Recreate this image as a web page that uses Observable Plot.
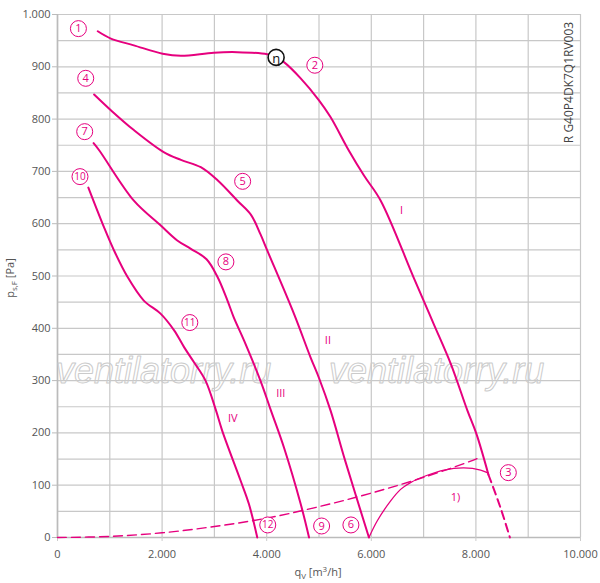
<!DOCTYPE html>
<html>
<head>
<meta charset="utf-8">
<script src="https://cdn.jsdelivr.net/npm/d3@7"></script>
<script src="https://cdn.jsdelivr.net/npm/@observablehq/plot@0.6"></script>
<style>
  html, body { margin: 0; padding: 0; background: #fff; }
  #chart { width: 600px; height: 583px; }
</style>
</head>
<body>
<div id="chart"></div>
<script>
// ---- data ----
const curveI_x = [770, 1020, 1460, 2010, 2360, 2990, 3440, 4010, 4180, 4330, 4650, 5000, 5220, 5570, 5860, 6180, 6810, 7190, 7520, 7840, 8010, 8240];
const curveI_y = [968, 954, 941, 925, 921, 927, 928, 924, 918, 909, 878, 836, 804, 740, 692, 644, 497, 409, 332, 242, 198, 120];
const curveIext_x = [8240, 8470, 8650];
const curveIext_y = [120, 57, 0];

const curveII_x = [700, 1020, 1460, 2030, 2360, 2740, 3060, 3440, 3700, 3880, 4010, 4520, 4840, 5000, 5220, 5500, 5955];
const curveII_y = [847, 817, 779, 737, 722, 708, 683, 644, 617, 580, 549, 428, 344, 305, 243, 147, 0];

const curveIII_x = [690, 800, 1460, 1970, 2290, 2550, 2850, 3060, 3250, 3370, 3570, 3880, 4080, 4330, 4650, 4810];
const curveIII_y = [754, 740, 644, 597, 568, 552, 532, 498, 453, 421, 376, 300, 243, 172, 64, 0];

const curveIV_x = [590, 890, 1080, 1340, 1650, 1970, 2230, 2420, 2610, 2830, 3030, 3150, 3500, 3660, 3820];
const curveIV_y = [669, 593, 549, 498, 453, 428, 396, 364, 335, 300, 243, 204, 109, 64, 0];

const system_x = [0, 1000, 2000, 3000, 4000, 5000, 6000, 7000, 8000, 8100];
const system_y = [0, 2, 9, 21, 37, 59, 85, 115, 150, 155];

const limit_x = [5955, 6115, 6370, 6560, 6750, 7070, 7390, 7770, 8090, 8240];
const limit_y = [0, 32, 70, 92, 105, 119, 129, 133, 129, 123];

const circleLabels = ["1", "2", "3", "4", "5", "6", "7", "8", "9", "10", "11", "12"];
const circleLabel_x = [400, 4920, 8620, 540, 3540, 5610, 520, 3220, 5050, 430, 2530, 4020];
const circleLabel_y = [973, 903, 124, 878, 681, 24, 776, 527, 22, 690, 411, 24];

const romanLabels = ["I", "II", "III", "IV", "1)"];
const roman_x = [6580, 5170, 4270, 3350, 7610];
const roman_y = [625, 376, 275, 227, 76];

const eta_x = [4180];
const eta_y = [918];

const xTicks = [0, 2000, 4000, 6000, 8000, 10000];
const yTicks = [0, 100, 200, 300, 400, 500, 600, 700, 800, 900, 1000];
const xGrid = [0, 1000, 2000, 3000, 4000, 5000, 6000, 7000, 8000, 9000, 10000];
const yGrid = [0, 50, 100, 150, 200, 250, 300, 350, 400, 450, 500, 550, 600, 650, 700, 750, 800, 850, 900, 950, 1000];

const watermarkText = "ventilatorry.ru";
const watermark_x = [2030, 7250];
const watermark_y = [318, 318];

const modelCode = "R G40P4DK7Q1RV003";

// ---- build ----
const zip = (xs, ys) => xs.map((x, i) => ({x, y: ys[i]}));
const MAG = "#e6007e";
const de = d3.formatLocale({decimal: ",", thousands: ".", grouping: [3], currency: ["", "€"]});
const fmt = de.format(",d");

const circles = circleLabels.map((t, i) => ({t, x: circleLabel_x[i], y: circleLabel_y[i]}));
const romans = romanLabels.map((t, i) => ({t, x: roman_x[i], y: roman_y[i]}));
const wm = watermark_x.map((x, i) => ({x, y: watermark_y[i], t: watermarkText}));

const chart = Plot.plot({
  width: 600,
  height: 583,
  marginLeft: 57,
  marginRight: 20,
  marginTop: 14,
  marginBottom: 46,
  x: {domain: [0, 10000]},
  y: {domain: [0, 1000]},
  style: {fontFamily: "Open Sans, sans-serif", fontSize: "11px", color: "#555", background: "#fff"},
  marks: [
    Plot.ruleX(xGrid, {x: d => d, stroke: "#c8c8c8", strokeWidth: 1.2}),
    Plot.ruleY(yGrid, {y: d => d, stroke: "#c8c8c8", strokeWidth: 1.2}),
    Plot.ruleX([0], {stroke: "#bbb", strokeWidth: 1.6}),
    Plot.ruleY([0], {stroke: "#bbb", strokeWidth: 1.6}),
    Plot.text(wm, {x: "x", y: "y", text: "t", fontSize: 36, fontStyle: "italic", fontFamily: "Liberation Sans, Arial, sans-serif", fill: "none", stroke: "#cbcbcb", strokeWidth: 1}),
    Plot.axisX({ticks: xTicks, tickFormat: fmt, tickSize: 4, tickPadding: 9, stroke: "#ccc", label: null, fill: "#555"}),
    Plot.axisY({ticks: yTicks, tickFormat: fmt, tickSize: 5, tickPadding: 2, stroke: "#bbb", label: null, fill: "#555"}),
    Plot.line(zip(system_x, system_y), {x: "x", y: "y", stroke: MAG, strokeWidth: 1.4, strokeDasharray: "9,5", curve: "catmull-rom"}),
    Plot.line(zip(limit_x, limit_y), {x: "x", y: "y", stroke: MAG, strokeWidth: 1.3, curve: "catmull-rom"}),
    Plot.line(zip(curveIext_x, curveIext_y), {x: "x", y: "y", stroke: MAG, strokeWidth: 2, strokeDasharray: "8,5", curve: "catmull-rom"}),
    Plot.line(zip(curveI_x, curveI_y), {x: "x", y: "y", stroke: MAG, strokeWidth: 2, curve: "catmull-rom"}),
    Plot.line(zip(curveII_x, curveII_y), {x: "x", y: "y", stroke: MAG, strokeWidth: 2, curve: "catmull-rom"}),
    Plot.line(zip(curveIII_x, curveIII_y), {x: "x", y: "y", stroke: MAG, strokeWidth: 2, curve: "catmull-rom"}),
    Plot.line(zip(curveIV_x, curveIV_y), {x: "x", y: "y", stroke: MAG, strokeWidth: 2, curve: "catmull-rom"}),
    Plot.dot(circles, {x: "x", y: "y", r: 8, fill: "white", stroke: MAG, strokeWidth: 1}),
    Plot.text(circles, {x: "x", y: "y", text: "t", fill: MAG, fontSize: d => d.t.length > 1 ? 10 : 11}),
    Plot.text(romans, {x: "x", y: "y", text: "t", fill: MAG, fontSize: 11}),
    Plot.dot(zip(eta_x, eta_y), {x: "x", y: "y", r: 8, fill: "white", stroke: "#111", strokeWidth: 1.6}),
    Plot.text(zip(eta_x, eta_y), {x: "x", y: "y", text: () => "η", fill: "#111", fontSize: 13, dy: 1}),
    Plot.text([{x: 9785, y: 870}], {x: "x", y: "y", text: () => modelCode, rotate: -90, fill: "#444", fontSize: 12})
  ]
});

document.getElementById("chart").appendChild(chart);

// axis titles with subscripts
const svg = d3.select(chart);
const yl = svg.append("text")
  .attr("transform", "translate(14,278) rotate(-90)")
  .attr("text-anchor", "middle")
  .attr("fill", "#555")
  .attr("font-size", 11)
  .attr("font-family", "Open Sans, sans-serif");
yl.append("tspan").text("p");
yl.append("tspan").attr("font-size", 8).attr("dy", 3).text("s,F");
yl.append("tspan").attr("dy", -3).text(" [Pa]");

const xl = svg.append("text")
  .attr("x", 318).attr("y", 576)
  .attr("text-anchor", "middle")
  .attr("fill", "#555")
  .attr("font-size", 11)
  .attr("font-family", "Open Sans, sans-serif");
xl.append("tspan").text("q");
xl.append("tspan").attr("font-size", 8).attr("dy", 3).text("V");
xl.append("tspan").attr("dy", -3).text(" [m");
xl.append("tspan").attr("font-size", 8).attr("dy", -4).text("3");
xl.append("tspan").attr("dy", 4).text("/h]");
</script>
</body>
</html>
